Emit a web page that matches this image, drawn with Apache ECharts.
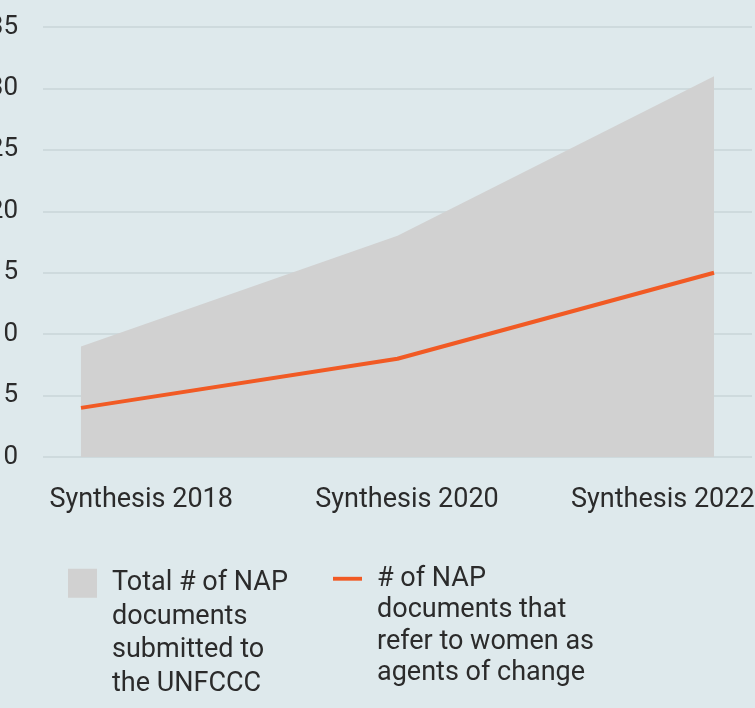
<!DOCTYPE html>
<html>
<head>
<meta charset="utf-8">
<script src="https://cdn.jsdelivr.net/npm/echarts@6/dist/echarts.min.js"></script>
<style>
html,body{margin:0;padding:0;background:#dee9ec;}
#chart{width:755px;height:708px;}
</style>
</head>
<body>
<div id="chart"></div>
<script>
const categories = ['Synthesis 2018', 'Synthesis 2020', 'Synthesis 2022'];
const totalDocs = [9, 18, 31];
const womenDocs = [4, 8, 15];
const yTicks = [0, 5, 10, 15, 20, 25, 30, 35];
const totalName = 'Total # of NAP\ndocuments\nsubmitted to\nthe UNFCCC';
const womenName = '# of NAP\ndocuments that\nrefer to women as\nagents of change';

const FONT = 'Roboto';
const TXT = '#2b2b2b';
const labelPads = [[0, 40, 0, 0], [0, 0, 0, 19], [0, 0, 0, 58]];

const chart = echarts.init(document.getElementById('chart'), null, {renderer: 'canvas'});
chart.setOption({
  backgroundColor: '#dee9ec',
  animation: false,
  grid: {left: 43, right: 3, top: 27, bottom: 251, containLabel: false, outerBoundsMode: 'none'},
  legend: [
    {
      data: [{name: totalName, icon: 'rect'}],
      left: 68, top: 463, padding: 0,
      itemWidth: 29, itemHeight: 29,
      selectedMode: false,
      formatter: n => '\n\n\n' + n,
      textStyle: {fontFamily: FONT, fontSize: 27, color: TXT, lineHeight: 33.5, padding: [6, 0, 0, 10]}
    },
    {
      data: [{name: womenName, icon: 'path://M0,0H30V4H0Z'}],
      left: 333, top: 466, padding: 0,
      itemWidth: 29, itemHeight: 4,
      selectedMode: false,
      formatter: n => '\n\n\n' + n,
      textStyle: {fontFamily: FONT, fontSize: 27, color: TXT, lineHeight: 31.5, padding: [5, 0, 0, 10]}
    }
  ],
  xAxis: [
    {
      type: 'value', min: -0.12, max: 2.12,
      axisLine: {show: false}, axisTick: {show: false},
      axisLabel: {show: false}, splitLine: {show: false}
    },
    {
      type: 'category', boundaryGap: true, position: 'bottom',
      data: categories.map((c, i) => ({value: c, textStyle: {padding: labelPads[i]}})),
      axisLine: {show: false}, axisTick: {show: false},
      axisLabel: {interval: 0, margin: 30, fontFamily: FONT, fontSize: 27, color: TXT},
      splitLine: {show: false}
    }
  ],
  yAxis: {
    type: 'value', min: yTicks[0], max: yTicks[yTicks.length - 1], interval: 5,
    axisLine: {show: false}, axisTick: {show: false},
    axisLabel: {margin: 25, fontFamily: FONT, fontSize: 26, color: TXT},
    splitLine: {lineStyle: {color: '#c8d5d9', width: 1.5}}
  },
  series: [
    {
      name: totalName, type: 'line', xAxisIndex: 0,
      data: totalDocs.map((v, i) => [i, v]),
      symbol: 'none', color: '#d1d1d1',
      lineStyle: {width: 0},
      areaStyle: {color: '#d1d1d1', opacity: 1}
    },
    {
      name: womenName, type: 'line', xAxisIndex: 0,
      data: womenDocs.map((v, i) => [i, v]),
      symbol: 'none', color: '#f15a24',
      lineStyle: {width: 4, color: '#f15a24'}
    }
  ]
});
</script>
</body>
</html>
